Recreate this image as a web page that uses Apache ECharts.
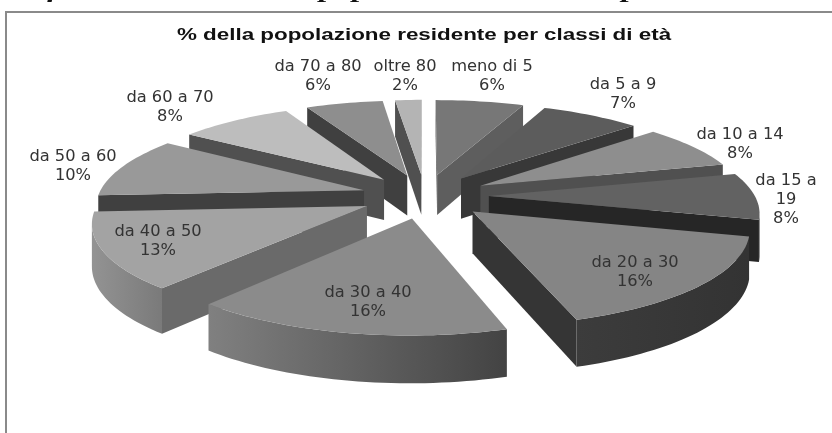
<!DOCTYPE html>
<html><head><meta charset="utf-8">
<style>html,body{margin:0;padding:0;background:#fff;overflow:hidden}#c{width:832px;height:433px}</style>
<script src="https://cdn.jsdelivr.net/npm/echarts@6/dist/echarts.min.js"></script>
</head><body><div id="c"></div>
<script>
// ---- data ----
const categories = ['meno di 5','da 5 a 9','da 10 a 14','da 15 a 19','da 20 a 30','da 30 a 40','da 40 a 50','da 50 a 60','da 60 a 70','da 70 a 80','oltre 80'];
const values = [6.3,7.1,7.6,8,16.15,16,12.95,10.4,8.1,5.5,1.9];
const titleText = '% della popolazione residente per classi di età';
const captionText = 'Grafico: struttura della popolazione residente per classi di età';
// ---- styles ----
const topColors = ['#777777','#5c5c5c','#8e8e8e','#626262','#858585','#8b8b8b','#a3a3a3','#999999','#bdbdbd','#8e8e8e','#b4b4b4'];
const radialColors = ['#5e5e5e','#383838','#505050','#262626','#353535','#555555','#6a6a6a','#404040','#505050','#404040','#505050'];
const arcColors = [['#555','#555'],['#333','#333'],['#444','#444'],['#2a2a2a','#262626'],['#3c3c3c','#333333'],['#808080','#434343'],['#939393','#7a7a7a'],['#3c3c3c','#3c3c3c'],['#444','#444'],['#444','#444'],['#444','#444']];
const labelCenters = [[492,67],[623,85],[740,135],[786,181],[635,263],[368,293],[158,232],[73,157],[170,98],[318,67],[405,67]];
const labelLines = [['meno di 5','6%'],['da 5 a 9','7%'],['da 10 a 14','8%'],['da 15 a','19','8%'],['da 20 a 30','16%'],['da 30 a 40','16%'],['da 40 a 50','13%'],['da 50 a 60','10%'],['da 60 a 70','8%'],['da 70 a 80','6%'],['oltre 80','2%']];
// ---- projection ----
const cx=425, cy=196, Rx=266, Ry=92, k=0.15, e=0.24, H=41;
const total = values.reduce((a,b)=>a+b,0);
const RAD=Math.PI/180;
let acc=0;
const slices = values.map((v,i)=>{const a=acc/total*360; acc+=v; return {i,a,b:acc/total*360,m:(a+v/total*180)};});
function project(x,z,down){const p=1/(1-k*z);return [cx+Rx*x*p, cy+Ry*z*p+(down?H*Math.pow(p,0.75):0)];}
function outline(s){
  const ax=e*Math.sin(s.m*RAD), az=-e*Math.cos(s.m*RAD);
  const pts=[];
  const n=Math.ceil((s.b-s.a)/1.5);
  for(let j=0;j<=n;j++){const t=(s.a+(s.b-s.a)*j/n)*RAD;pts.push([ax+Math.sin(t),az-Math.cos(t)]);}
  return {apex:[ax,az],pts};
}
const paintOrder = slices.slice().sort((p,q)=>(-Math.cos(p.m*RAD))-(-Math.cos(q.m*RAD)));

function renderSlice(params,api){
  const s=slices[api.value(0)], o=outline(s), i=s.i, children=[];
  const T=q=>project(q[0],q[1],false), B=q=>project(q[0],q[1],true);
  const addRadial=(u,v)=>{
    const A=T(u),C=T(v);
    if(C[0]<A[0]) children.push({type:'polygon',shape:{points:[A,C,B(v),B(u)]},style:{fill:radialColors[i]}});
  };
  addRadial(o.apex,o.pts[0]);
  addRadial(o.pts[o.pts.length-1],o.apex);
  let run=[];
  const flush=()=>{
    if(run.length>1){
      const top=run.map(T), bot=run.map(B).reverse(), poly=top.concat(bot);
      const xs=poly.map(q=>q[0]);
      children.push({type:'polygon',shape:{points:poly},style:{fill:new echarts.graphic.LinearGradient(Math.min(...xs),0,Math.max(...xs),0,[{offset:0,color:arcColors[i][0]},{offset:1,color:arcColors[i][1]}],true)}});
    }
    run=[];
  };
  for(let j=0;j<o.pts.length-1;j++){
    const A=T(o.pts[j]),C=T(o.pts[j+1]);
    if(C[0]<A[0]){ if(!run.length) run.push(o.pts[j]); run.push(o.pts[j+1]); } else flush();
  }
  flush();
  children.push({type:'polygon',shape:{points:[o.apex].concat(o.pts).map(T)},style:{fill:topColors[i]}});
  return {type:'group',children};
}
const labelEls=[];
labelLines.forEach((lines,i)=>{
  lines.forEach((t,j)=>{
    labelEls.push({type:'text',z:50,x:labelCenters[i][0],y:labelCenters[i][1]+j*19,scaleX:1.05,
      style:{text:t,fill:'#333333',font:'15.5px "DejaVu Sans"',align:'center',verticalAlign:'middle'}});
  });
});
const chart=echarts.init(document.getElementById('c'),null,{renderer:'canvas'});
chart.setOption({
  animation:false,
  backgroundColor:'#ffffff',
  graphic:[
    {type:'rect',z:1,shape:{x:6,y:12,width:860,height:460},style:{fill:'none',stroke:'#8a8a8a',lineWidth:2}},
    {type:'text',z:1,x:-6,y:2,scaleX:1.5,style:{text:captionText,fill:'#111',font:'italic bold 22px "Liberation Serif"',verticalAlign:'bottom',align:'left'}},
    {type:'text',z:50,x:424,y:36,scaleX:1.4,style:{text:titleText,fill:'#111111',font:'bold 16px "Liberation Sans"',align:'center',verticalAlign:'middle'}}
  ].concat(labelEls),
  series:[{type:'custom',coordinateSystem:'none',renderItem:renderSlice,silent:true,z:10,
    data:paintOrder.map(s=>[s.i,values[s.i]])}]
});
</script></body></html>
